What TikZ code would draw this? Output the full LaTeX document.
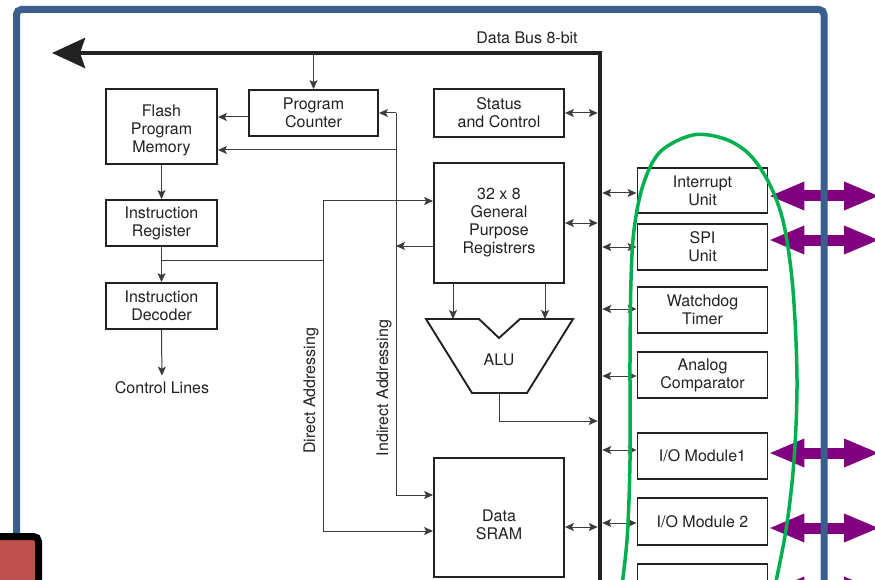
\documentclass[tikz,border=0pt]{standalone}
\usepackage{fontspec}
\setmainfont{TeX Gyre Heros}
\usetikzlibrary{arrows.meta,calc}
\definecolor{framebl}{RGB}{58,95,140}
\definecolor{purp}{RGB}{128,0,128}
\definecolor{grn}{RGB}{0,176,80}
\definecolor{redbox}{RGB}{192,80,77}
\definecolor{ink}{RGB}{34,34,34}
\definecolor{wire}{RGB}{60,60,60}
\begin{document}
\begin{tikzpicture}[x=1pt,y=-1pt,
 box/.style={draw=ink, line width=1.9pt, fill=white, align=center, inner sep=0pt, text=ink, font=\fontsize{16}{18}\selectfont},
 lbl/.style={text=ink, inner sep=0pt, align=center, font=\fontsize{16}{18}\selectfont},
 arr/.style={draw=wire, line width=1pt, -{Stealth[length=9pt,width=8pt,inset=2pt]}},
 dblarr/.style={draw=wire, line width=1pt, {Stealth[length=9pt,width=8pt,inset=2pt]}-{Stealth[length=9pt,width=8pt,inset=2pt]}},
 wireline/.style={draw=wire, line width=1pt},
 bigarr/.style={draw=purp, line width=11pt, {Triangle[length=36pt,width=26pt]}-{Triangle[length=36pt,width=26pt]}},
]
\clip (0,0) rectangle (875,580);
\useasboundingbox (0,0) rectangle (875,580);
\fill[white] (0,0) rectangle (875,580);

% bus
\coordinate (busT) at (600,53);
\coordinate (busL) at (52,53);
\coordinate (busB) at (600,620);
\draw[draw=ink, line width=4.5pt, -{Stealth[length=33pt,width=30pt,inset=5pt]}] (busB) -- (busT) -- (busL);
\node[lbl] (dbus) at (527,38) {Data Bus 8-bit};

% left column
\node[box, minimum width=129pt, minimum height=46pt] (pc) at (313.5,113) {Program\\Counter};
\node[box, minimum width=111pt, minimum height=75pt, label={[lbl,yshift=-4pt]center:{Flash\\Program\\Memory}}] (flash) at (161.5,126.5) {};
\node[box, minimum width=111pt, minimum height=46pt] (ir) at (161.5,223) {Instruction\\Register};
\node[box, minimum width=111pt, minimum height=46pt] (id) at (161.5,306) {Instruction\\Decoder};
\node[lbl] (ctl) at (162,388) {Control Lines};

% middle column
\node[box, minimum width=130pt, minimum height=48pt] (status) at (499,113) {Status\\and Control};
\node[box, minimum width=130pt, minimum height=120pt] (gpr) at (499,223) {32 x 8\\General\\Purpose\\Registrers};
\node[box, minimum width=130pt, minimum height=119pt, label={[lbl,yshift=-7pt]center:{Data\\SRAM}}] (sram) at (499,517.5) {};

% ALU
\draw[draw=ink, line width=1.9pt, fill=white, line join=miter] (426,319) -- (479,319) -- (499,338) -- (520,319) -- (573,319) -- (527,393) -- (472,393) -- cycle;
\node[lbl] (alu) at (499,360) {ALU};
\coordinate (aluL) at (453,319);
\coordinate (aluR) at (545,319);
\coordinate (aluout) at (499,393);

% right column
\node[box, minimum width=130pt, minimum height=45pt] (intr) at (702.5,190.5) {Interrupt\\Unit};
\node[box, minimum width=130pt, minimum height=46pt] (spi) at (702.5,247) {SPI\\Unit};
\node[box, minimum width=130pt, minimum height=46pt] (wdt) at (702.5,310) {Watchdog\\Timer};
\node[box, minimum width=130pt, minimum height=46pt] (ana) at (702.5,375) {Analog\\Comparator};
\node[box, minimum width=130pt, minimum height=46pt] (io1) at (702.5,456) {I/O Module1};
\node[box, minimum width=130pt, minimum height=47pt] (io2) at (702.5,521.5) {I/O Module 2};
\node[box, minimum width=130pt, minimum height=46pt] (io3) at (702.5,587) {};

% connectors
\draw[arr] (pc.north |- busT) -- (pc.north);
\draw[arr] ([yshift=-4pt]pc.west) -- (flash.east |- 0,117);
\draw[arr] (flash.south) -- (ir.north);
\draw[arr] (ir.south) -- (id.north);
\draw[arr, shorten >=6pt] (id.south) -- (ctl.north);

% indirect addressing
\coordinate (ia) at (396,113);
\coordinate (ib) at (396,495);
\draw[arr] (ia) -- (pc.east |- ia);
\draw[arr] (ia) -- (ib) -- (sram.west |- ib);
\draw[arr] (ia |- 0,150) -- (flash.east |- 0,150);
\draw[arr] (gpr.west |- 0,246) -- (ia |- 0,246);
\node[lbl, rotate=90] (ialbl) at (384,388) {Indirect Addressing};

% direct addressing
\coordinate (da) at (323,201);
\coordinate (db) at (323,531);
\draw[wireline] (ir.south |- 0,260) -- (da |- 0,260);
\draw[arr] (da) -- (gpr.west |- da);
\draw[arr] (da) -- (db) -- (sram.west |- db);
\node[lbl, rotate=90] (dalbl) at (311,391) {Direct Addressing};

% GPR -> ALU -> bus
\draw[arr] (aluL |- gpr.south) -- (aluL);
\draw[arr] (aluR |- gpr.south) -- (aluR);
\draw[arr, shorten >=2.3pt] (aluout) |- (busT |- 0,421);

% bus double arrows (left side)
\draw[dblarr, shorten >=2.3pt] (status.east) -- (status.east -| busT);
\draw[dblarr, shorten >=2.3pt] (gpr.east) -- (gpr.east -| busT);
\draw[dblarr, shorten >=2.3pt] (sram.east |- 0,527) -- (busT |- 0,527);

% bus double arrows (right side)
\draw[dblarr, shorten <=2.3pt] (busT |- 0,193) -- (intr.west |- 0,193);
\draw[dblarr, shorten <=2.3pt] (busT |- spi.west) -- (spi.west);
\draw[dblarr, shorten <=2.3pt] (busT |- 0,309) -- (wdt.west |- 0,309);
\draw[dblarr, shorten <=2.3pt] (busT |- 0,376) -- (ana.west |- 0,376);
\draw[dblarr, shorten <=2.3pt] (busT |- 0,450) -- (io1.west |- 0,450);
\draw[dblarr, shorten <=2.3pt] (busT |- 0,523) -- (io2.west |- 0,523);

% purple external arrows
\coordinate (p1) at (880,196);
\coordinate (p2) at (880,240);
\coordinate (p3) at (880,453);
\coordinate (p4) at (880,528);
\coordinate (p5) at (880,591);
\draw[bigarr] (intr.east |- p1) -- (p1);
\draw[bigarr] (spi.east |- p2) -- (p2);
\draw[bigarr] (io1.east |- p3) -- (p3);
\draw[bigarr] (io2.east |- p4) -- (p4);
\draw[bigarr] (io3.east |- p5) -- (p5);

% blue frame
\draw[framebl, line width=7pt, rounded corners=5pt] (16.5,540) -- (16.5,9.5) -- (824,9.5) -- (824,620);

% red box
\draw[black, line width=7pt, fill=redbox, rounded corners=5pt] (-20,536.5) rectangle (38.5,640);

% green loop
\draw[grn, line width=3.5pt, line cap=round] plot[smooth, tension=0.55] coordinates {
 (620,600) (627,540) (630,460) (630,360) (631,280) (634,230) (643,185) (660,152) (693,135) (725,139) (750,155) (770,185) (784,225) (793,290) (797,380) (794,460) (786,530) (772,600)};
\end{tikzpicture}
\end{document}
